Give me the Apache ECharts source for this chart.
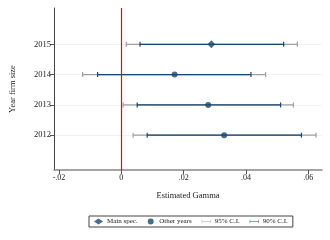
<!DOCTYPE html>
<html><head><meta charset="utf-8">
<script src="https://cdn.jsdelivr.net/npm/echarts@6/dist/echarts.min.js"></script>
<style>html,body{margin:0;padding:0;background:#fff}#c{width:330px;height:240px}</style>
</head><body><div id="c"></div>
<script>
var years = [2015, 2014, 2013, 2012];
var estimates = [0.0289, 0.0171, 0.0279, 0.0330];
var ci95Low = [0.0016, -0.0124, 0.0006, 0.0038];
var ci95High = [0.0565, 0.0463, 0.0552, 0.0625];
var ci90Low = [0.0060, -0.0076, 0.0051, 0.0083];
var ci90High = [0.0521, 0.0416, 0.0511, 0.0578];
var mainSpecYear = 2015;
var xTicks = [-0.02, 0, 0.02, 0.04, 0.06];
var yTicks = [2012, 2013, 2014, 2015];

var NAVY = '#1a476f', GRAY = '#a0a0a0';
var FONT = 'Liberation Serif';

function ciItem(color) {
  return function (params, api) {
    var y = api.value(2);
    var p1 = api.coord([api.value(0), y]);
    var p2 = api.coord([api.value(1), y]);
    var h = 2.5;
    return {
      type: 'group',
      children: [
        {type: 'line', shape: {x1: p1[0], y1: p1[1], x2: p2[0], y2: p2[1]}, style: {stroke: color, lineWidth: 1.2}},
        {type: 'line', shape: {x1: p1[0], y1: p1[1] - h, x2: p1[0], y2: p1[1] + h}, style: {stroke: color, lineWidth: 1.2}},
        {type: 'line', shape: {x1: p2[0], y1: p2[1] - h, x2: p2[0], y2: p2[1] + h}, style: {stroke: color, lineWidth: 1.2}}
      ]
    };
  };
}

var d95 = years.map(function (y, i) { return [ci95Low[i], ci95High[i], y]; });
var d90 = years.map(function (y, i) { return [ci90Low[i], ci90High[i], y]; });
var mainPts = [], otherPts = [];
years.forEach(function (y, i) {
  if (y === mainSpecYear) mainPts.push([estimates[i], y]); else otherPts.push([estimates[i], y]);
});

function fmtX(v) {
  if (Math.abs(v) < 1e-9) return '0';
  var s = Math.abs(v).toFixed(2).replace(/^0/, '');
  return (v < 0 ? '-' : '') + s;
}

var capIcon = 'path://M0,0h1v8h-1z M1,3.5h18v1h-18z M19,0h1v8h-1z';

var chart = echarts.init(document.getElementById('c'), null, {renderer: 'canvas'});
chart.setOption({
  animation: false,
  textStyle: {fontFamily: FONT},
  grid: {left: 52, right: 8, top: 8, bottom: 70},
  xAxis: {
    type: 'value', min: -0.0216, max: 0.0644,
    name: 'Estimated Gamma', nameLocation: 'middle', nameGap: 21,
    nameTextStyle: {fontFamily: FONT, fontSize: 8.5, color: '#222'},
    axisLine: {show: true, onZero: false, lineStyle: {color: '#888', width: 1.5}},
    axisTick: {show: true, length: 4, customValues: xTicks, lineStyle: {color: '#555'}},
    axisLabel: {customValues: xTicks, formatter: fmtX, fontFamily: FONT, fontSize: 8, color: '#222', margin: 4},
    splitLine: {show: false}
  },
  yAxis: {
    type: 'value', min: 2010.85, max: 2016.2,
    name: 'Year firm size', nameLocation: 'middle', nameGap: 37, nameRotate: 90,
    nameTextStyle: {fontFamily: FONT, fontSize: 8.5, color: '#222'},
    axisLine: {show: true, onZero: false, lineStyle: {color: '#444', width: 1}},
    axisTick: {show: true, length: 4, customValues: yTicks, lineStyle: {color: '#555'}},
    axisLabel: {customValues: yTicks, formatter: function (v) { return String(v); },
      fontFamily: FONT, fontSize: 8.5, color: '#222', margin: 3},
    splitLine: {show: true, lineStyle: {color: '#eef3f3', width: 1}}
  },
  legend: {
    left: 89, top: 216, width: 280, orient: 'horizontal',
    padding: [2, 5], itemGap: 10, itemWidth: 9, itemHeight: 6,
    borderColor: '#444', borderWidth: 1, borderRadius: 0,
    textStyle: {fontFamily: FONT, fontSize: 7, color: '#222', padding: [0, 0, 0, -1]},
    data: [
      {name: 'Main spec.', icon: 'diamond'},
      {name: 'Other years', icon: 'circle'},
      {name: '95% C.I.', icon: capIcon, itemStyle: {color: GRAY}},
      {name: '90% C.I.', icon: capIcon, itemStyle: {color: NAVY}}
    ]
  },
  series: [
    {name: '95% C.I.', type: 'custom', renderItem: ciItem(GRAY), data: d95,
      encode: {x: [0, 1], y: 2}, itemStyle: {color: GRAY}, z: 2},
    {name: '90% C.I.', type: 'custom', renderItem: ciItem(NAVY), data: d90,
      encode: {x: [0, 1], y: 2}, itemStyle: {color: NAVY}, z: 3},
    {name: 'Main spec.', type: 'scatter', symbol: 'diamond', symbolSize: 8, data: mainPts,
      itemStyle: {color: NAVY}, z: 4,
      markLine: {
        silent: true, symbol: ['none', 'none'], label: {show: false}, z: 5,
        lineStyle: {color: '#d0103a', width: 1.2, type: 'solid', opacity: 1},
        data: [{xAxis: 0}]
      }},
    {name: 'Other years', type: 'scatter', symbol: 'circle', symbolSize: 6, data: otherPts,
      itemStyle: {color: NAVY}, z: 4}
  ]
});
</script></body></html>
